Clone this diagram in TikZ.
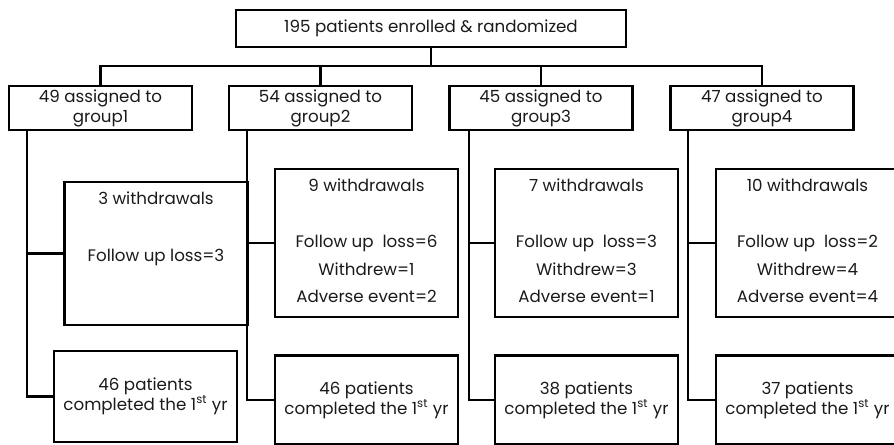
\documentclass[tikz,border=0pt]{standalone}
\usepackage{fontspec}
\setmainfont{Poppins}

\begin{document}
\begin{tikzpicture}[
    x=0.02cm,
    y=-0.02cm,
    line join=miter,
    every node/.style={font=\fontsize{9.5}{11.4}\selectfont},
]
\definecolor{fcLine}{HTML}{000000}
\definecolor{fcText}{HTML}{1A1A1A}

\tikzset{
    box/.style={draw=fcLine,line width=1.3pt,text=fcText,align=center,inner sep=0pt},
    groupbox/.style={box,minimum width=3.66cm,minimum height=0.88cm},
    wdbox/.style={box,minimum width=3.66cm},
    donebox/.style={box,minimum width=3.66cm,minimum height=1.78cm},
    link/.style={draw=fcLine,line width=1.3pt},
}

\newcommand{\wdlines}[2]{\parbox[c][#1][t]{3.5cm}{\centering\baselineskip=15.8pt
    \rule{0pt}{13pt}#2}}

\useasboundingbox (0,0) rectangle (894,444);
\clip (0,0) rectangle (894,444);

\node[box,minimum width=7.8cm,minimum height=0.74cm] (enrol) at (431,28.5)
    {195 patients enrolled \& randomized};

\foreach \n/\cx/\num in {1/100.5/49,2/320.5/54,3/541/45,4/762/47} {
    \node[groupbox] (g\n) at (\cx,108) {\num\ assigned to\\group\n};
}

\node[wdbox] (w1) at (156,253.5)
    {\wdlines{2.86cm}{3 withdrawals\\[16.5pt]Follow up loss=3}};
\node[wdbox] (w2) at (366.5,243)
    {\wdlines{2.96cm}{9 withdrawals\\[15.8pt]Follow up~ loss=6\\Withdrew=1\\Adverse event=2}};
\node[wdbox] (w3) at (586.5,243)
    {\wdlines{2.96cm}{7 withdrawals\\[15.8pt]Follow up~ loss=3\\Withdrew=3\\Adverse event=1}};
\node[wdbox] (w4) at (807.5,243)
    {\wdlines{2.96cm}{10 withdrawals\\[15.8pt]Follow up~ loss=2\\Withdrew=4\\Adverse event=4}};

\node[donebox,minimum height=1.82cm] (c1) at (145.5,396.5)
    {46 patients\\completed the 1\textsuperscript{st} yr};
\node[donebox] (c2) at (366.5,400) {46 patients\\completed the 1\textsuperscript{st} yr};
\node[donebox] (c3) at (586.5,400) {38 patients\\completed the 1\textsuperscript{st} yr};
\node[donebox] (c4) at (807.5,400) {37 patients\\completed the 1\textsuperscript{st} yr};

% randomisation bus
\coordinate (bus) at (431,66);
\draw[link] (enrol.south) -- (bus);
\draw[link] (g1.north) |- (bus) -| (g4.north);
\draw[link] (g2.north) -- (g2.north |- bus);
\draw[link] (g3.north) -- (g3.north |- bus);

% follow-up spines
\coordinate (s1) at (27,130);
\coordinate (s2) at (247,130);
\coordinate (s3) at (469,130);
\coordinate (s4) at (688,130);

\foreach \n in {1,2,3,4} {
    \draw[link] (s\n) |- (c\n.west);
    \draw[link] (s\n |- w\n.west) -- (w\n.west);
}
\end{tikzpicture}
\end{document}
